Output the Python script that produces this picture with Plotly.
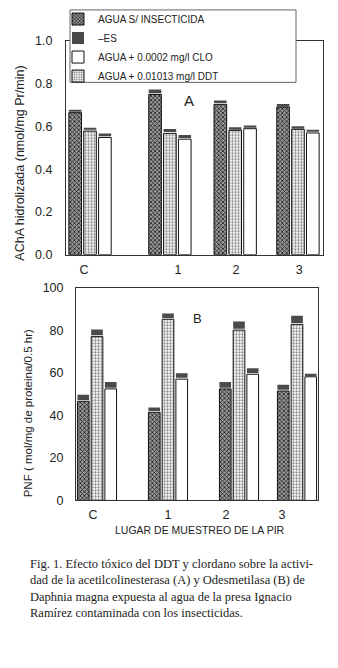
import plotly.graph_objects as go

# ---------------- data ----------------
sites = ["C", "1", "2", "3"]

# Panel A: AChA hidrolizada (nmol/mg Pr/min)
a_sin = [0.664, 0.749, 0.703, 0.690]
a_ddt = [0.578, 0.567, 0.581, 0.586]
a_clo = [0.548, 0.540, 0.589, 0.569]
a_sin_es = [0.014, 0.023, 0.018, 0.014]
a_ddt_es = [0.015, 0.021, 0.015, 0.014]
a_clo_es = [0.018, 0.020, 0.015, 0.012]

# Panel B: PNF (mol/mg de proteina/0.5 hr)
b_sin = [46.7, 41.5, 52.5, 51.5]
b_ddt = [77.1, 85.3, 80.2, 82.9]
b_clo = [52.5, 57.1, 59.4, 58.2]
b_sin_es = [3.0, 2.3, 3.2, 2.9]
b_ddt_es = [3.4, 2.7, 4.0, 4.0]
b_clo_es = [3.2, 2.8, 2.8, 1.4]

names = ["AGUA S/ INSECTICIDA", "\u2013ES", "AGUA + 0.0002 mg/l CLO", "AGUA + 0.01013 mg/l DDT"]
caption = ("Fig. 1. Efecto tóxico del DDT y clordano sobre la activi-<br>"
           "dad de la acetilcolinesterasa (A) y Odesmetilasa (B) de<br>"
           "Daphnia magna expuesta al agua de la presa Ignacio<br>"
           "Ramírez contaminada con los insecticidas.")

# ---------------- layout constants ----------------
W, H = 338, 668
pos_A = [0, 1.26, 2.29, 3.28]
pos_B = [0, 1.224, 2.448, 3.448]
tick_A = [-0.095, 1.388, 2.303, 3.30]
tick_B = [-0.069, 1.224, 2.224, 3.19]
gap_A, gap_B = 0.006, 0.6

FONT = "Liberation Sans"
INK = "#222222"

def px(x):
    return x / W

def py(y):
    return 1 - y / H

dark_marker = dict(color="#8a8a8a", line=dict(color="#111", width=1),
                   pattern=dict(shape="x", fgcolor="#1a1a1a", bgcolor="#9a9a9a",
                                size=3, solidity=0.45, fillmode="replace"))
dot_marker = dict(color="white", line=dict(color="#111", width=1),
                  pattern=dict(shape=".", fgcolor="#8a8a8a", bgcolor="white",
                               size=3, solidity=0.45, fillmode="replace"))
white_marker = dict(color="white", line=dict(color="#111", width=1))
cap_marker = dict(color="#4a4a4a", line=dict(width=0))

fig = go.Figure()

def add_panel(pos, vals, ess, gap, xa, ya, show):
    specs = [("g0", names[0], dark_marker, 1),
             ("g1", names[3], dot_marker, 4),
             ("g2", names[2], white_marker, 3)]
    for (og, nm, mk, rk), v in zip(specs, vals):
        fig.add_trace(go.Bar(x=pos, y=v, name=nm, offsetgroup=og, marker=mk,
                             xaxis=xa, yaxis=ya, showlegend=show, legendrank=rk))
    for i, ((og, nm, mk, rk), v, e) in enumerate(zip(specs, vals, ess)):
        fig.add_trace(go.Bar(x=pos, y=[ei - gap for ei in e], base=[vi + gap for vi in v],
                             name=names[1], offsetgroup=og, marker=cap_marker,
                             xaxis=xa, yaxis=ya, showlegend=(show and i == 0), legendrank=2))

add_panel(pos_A, [a_sin, a_ddt, a_clo], [a_sin_es, a_ddt_es, a_clo_es], gap_A, "x", "y", True)
add_panel(pos_B, [b_sin, b_ddt, b_clo], [b_sin_es, b_ddt_es, b_clo_es], gap_B, "x2", "y2", False)

axis_common = dict(showline=True, mirror=True, linecolor="#333", linewidth=1,
                   showgrid=False, zeroline=False, ticks="",
                   tickfont=dict(family=FONT, size=12.5, color=INK))

def ann(text, x, y, size, angle=0, family=FONT):
    return dict(text=text, x=px(x), y=py(y), xref="paper", yref="paper",
                xanchor="center", yanchor="middle", showarrow=False, textangle=angle,
                font=dict(family=family, size=size, color=INK))

fig.update_layout(
    width=W, height=H,
    margin=dict(l=0, r=0, t=0, b=0),
    paper_bgcolor="white", plot_bgcolor="white",
    barmode="group", bargap=0.29, bargroupgap=0.15,
    font=dict(family=FONT, color=INK),
    xaxis=dict(domain=[px(66), px(323)], range=[-0.379, 3.675], anchor="y",
               tickmode="array", tickvals=tick_A, ticktext=sites,
               ticklabelstandoff=3, **axis_common),
    yaxis=dict(domain=[py(253), py(34.5)], range=[0, 1.0], anchor="x",
               tickmode="array", tickvals=[0, 0.2, 0.4, 0.6, 0.8, 1.0],
               tickformat=".1f", ticklabelstandoff=10, **axis_common),
    xaxis2=dict(domain=[px(76), px(318)], range=[-0.362, 3.81], anchor="y2",
                tickmode="array", tickvals=tick_B, ticktext=sites,
                ticklabelstandoff=3, **axis_common),
    yaxis2=dict(domain=[py(504), py(287)], range=[0, 100], anchor="x2",
                tickmode="array", tickvals=[0, 20, 40, 60, 80, 100],
                ticklabelstandoff=9, **axis_common),
    legend=dict(x=px(58), y=py(-2.5), xanchor="left", yanchor="top",
                bgcolor="rgba(0,0,0,0)", borderwidth=0,
                font=dict(family=FONT, size=10, color=INK),
                traceorder="normal"),
    shapes=[dict(type="rect", xref="paper", yref="paper",
                 x0=px(70), x1=px(296), y0=py(77), y1=py(3),
                 fillcolor="white", line=dict(color="#666", width=1), layer="above")],
    annotations=[
        ann("A", 189, 95, 15),
        ann("B", 197, 318, 13),
        ann("AChA hidrolizada (nmol/mg Pr/min)", 20, 160, 12.5, -90),
        ann("PNF ( mol/mg de proteina/0.5 hr)", 28, 415, 11.5, -90),
        ann("LUGAR DE MUESTREO DE LA PIR", 200, 534, 10.5),
        dict(text=caption, x=px(28), y=py(560), xref="paper", yref="paper",
             xanchor="left", yanchor="top", align="left", showarrow=False,
             font=dict(family="Liberation Serif", size=12.5, color=INK)),
    ],
)

fig.write_html("out.html", config={"displayModeBar": False},
               post_script="document.body.style.margin='0';")
